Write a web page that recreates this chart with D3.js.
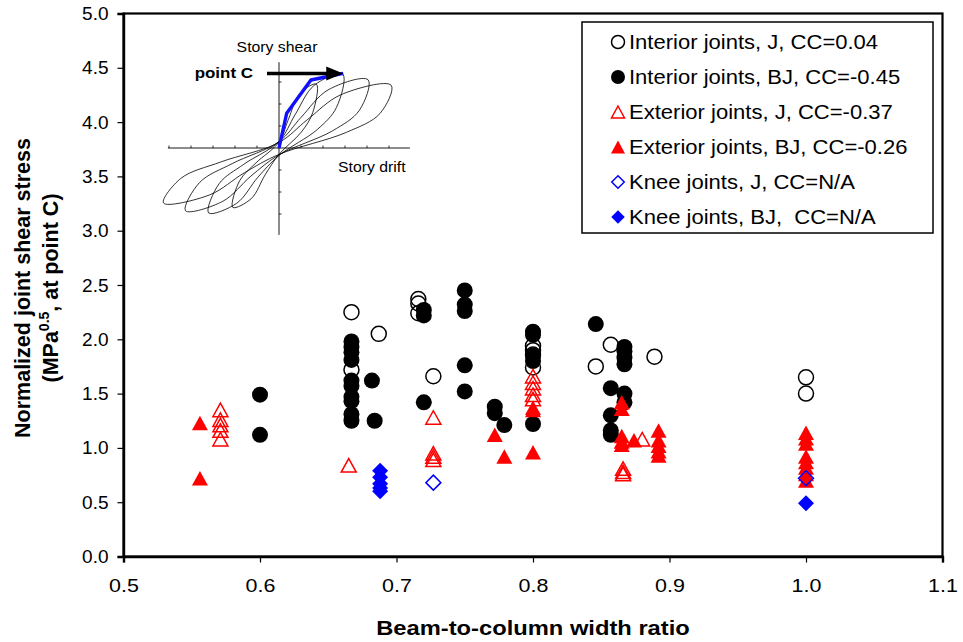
<!DOCTYPE html>
<html>
<head>
<meta charset="utf-8">
<script src="https://cdn.jsdelivr.net/npm/d3@7"></script>
<style>
  html, body { margin: 0; padding: 0; background: #fff; }
  svg { display: block; font-family: "Liberation Sans", Arial, sans-serif; }
</style>
</head>
<body>
<svg id="chart" width="963" height="642"></svg>
<script>
// ---- Joint shear data: beam-to-column width ratio (x) vs normalized joint shear stress (y) ----
const interiorJ_x = [0.667, 0.667, 0.687, 0.716, 0.716, 0.716, 0.727, 0.8, 0.8, 0.8, 0.8, 0.846, 0.857, 0.889, 1.0, 1.0];
const interiorJ_y = [2.25, 1.72, 2.05, 2.37, 2.33, 2.24, 1.66, 1.94, 1.90, 1.86, 1.74, 1.75, 1.95, 1.84, 1.65, 1.50];

const interiorBJ_x = [0.6, 0.6,
  0.667, 0.667, 0.667, 0.667, 0.667, 0.667, 0.667, 0.667, 0.667, 0.667,
  0.682, 0.684, 0.72, 0.72, 0.72,
  0.75, 0.75, 0.75, 0.75, 0.75,
  0.772, 0.772, 0.779,
  0.8, 0.8, 0.8, 0.8, 0.8,
  0.846,
  0.857, 0.857, 0.857, 0.857,
  0.867, 0.867, 0.867, 0.867, 0.867, 0.867];
const interiorBJ_y = [1.49, 1.12,
  1.98, 1.93, 1.88, 1.81, 1.62, 1.57, 1.47, 1.43, 1.31, 1.25,
  1.62, 1.25, 2.27, 2.22, 1.42,
  2.45, 2.32, 2.26, 1.76, 1.52,
  1.38, 1.32, 1.21,
  2.07, 2.04, 1.85, 1.80, 1.22,
  2.14,
  1.55, 1.30, 1.16, 1.12,
  1.93, 1.89, 1.83, 1.77, 1.50, 1.42];

const exteriorJ_x = [0.571, 0.571, 0.571, 0.571, 0.571, 0.665, 0.727, 0.727, 0.727, 0.727,
  0.8, 0.8, 0.8, 0.8, 0.8, 0.866, 0.866, 0.866, 0.880];
const exteriorJ_y = [1.35, 1.26, 1.21, 1.16, 1.08, 0.84, 1.28, 0.95, 0.92, 0.89,
  1.66, 1.60, 1.55, 1.49, 1.45, 0.81, 0.78, 0.76, 1.08];

const exteriorBJ_x = [0.556, 0.556, 0.772, 0.779, 0.8, 0.8, 0.8,
  0.865, 0.865, 0.865, 0.865, 0.865, 0.874,
  0.892, 0.892, 0.892, 0.892, 0.892,
  1.0, 1.0, 1.0, 1.0, 1.0, 1.0, 1.0, 1.0];
const exteriorBJ_y = [1.23, 0.72, 1.12, 0.92, 1.37, 1.35, 0.96,
  1.42, 1.36, 1.11, 1.06, 1.03, 1.07,
  1.16, 1.07, 1.02, 0.97, 0.93,
  1.14, 1.09, 1.04, 0.92, 0.87, 0.82, 0.76, 0.70];

const kneeJ_x = [0.727, 1.0];
const kneeJ_y = [0.68, 0.72];

const kneeBJ_x = [0.688, 0.688, 0.688, 0.688, 0.688, 1.0];
const kneeBJ_y = [0.79, 0.73, 0.67, 0.63, 0.60, 0.49];

const seriesNames = [
  "Interior joints, J, CC=0.04",
  "Interior joints, BJ, CC=-0.45",
  "Exterior joints, J, CC=-0.37",
  "Exterior joints, BJ, CC=-0.26",
  "Knee joints, J, CC=N/A",
  "Knee joints, BJ,  CC=N/A"
];

const xTicks = [0.5, 0.6, 0.7, 0.8, 0.9, 1.0, 1.1];
const yTicks = [0.0, 0.5, 1.0, 1.5, 2.0, 2.5, 3.0, 3.5, 4.0, 4.5, 5.0];

// ---- Inset: story shear vs story drift hysteresis (drift, shear) ----
const loop1 = [[-2.1,-2.7],[-1.79,-1.49],[-1.05,-0.68],[0,0.27],[0.43,1.31],[0.94,2.47],[1.7,2.9],[1.53,1.6],[1.02,0.73],[0,-0.29],[-0.63,-1.22],[-1.26,-2.3]];
const loop2 = [[-3.2,-2.95],[-2.72,-1.62],[-1.6,-0.74],[0,0.3],[0.73,1.51],[1.6,2.85],[2.9,3.35],[2.61,1.84],[1.74,0.84],[0,-0.34],[-0.96,-1.33],[-1.92,-2.51]];
const loop3 = [[-4.25,-2.85],[-3.61,-1.57],[-2.13,-0.71],[0,0.29],[1.01,1.4],[2.23,2.64],[4.05,3.1],[3.65,1.71],[2.43,0.78],[0,-0.31],[-1.28,-1.28],[-2.55,-2.42]];
const loop4 = [[-5.25,-2.5],[-4.46,-1.38],[-2.63,-0.63],[0,0.25],[1.28,1.28],[2.81,2.42],[5.1,2.85],[4.59,1.57],[3.06,0.71],[0,-0.29],[-1.58,-1.13],[-3.15,-2.13]];
const envelope = [[0,0],[0.35,1.58],[1.45,3.09],[2.17,3.24],[2.92,3.39]];
const insetTicksX = [-5, -4, -3, -2, -1, 1, 2, 3, 4, 5];
const insetTicksY = [-3, -2, -1, 1, 2, 3];

// ---- Layout ----
const svg = d3.select("#chart");
const FONT = "'Liberation Sans', Arial, sans-serif";
const STRETCH = 1.13;

const x = d3.scaleLinear().domain([0.5, 1.1]).range([123.5, 942.5]);
const y = d3.scaleLinear().domain([0, 5]).range([556.5, 13.5]);

// frame
svg.append("rect")
  .attr("x", x(0.5)).attr("y", y(5))
  .attr("width", x(1.1) - x(0.5)).attr("height", y(0) - y(5))
  .attr("fill", "none").attr("stroke", "#000").attr("stroke-width", 2.2);

// axes
const yAxis = svg.append("g")
  .attr("transform", `translate(${x(0.5)},0)`)
  .call(d3.axisLeft(y).tickValues(yTicks).tickFormat(d3.format(".1f")).tickSize(6).tickPadding(9));
yAxis.select(".domain").attr("stroke-width", 2.4);
yAxis.selectAll(".tick line").attr("stroke-width", 1.2);
yAxis.selectAll(".tick text").attr("font-size", 19).attr("font-family", FONT).attr("fill", "#000");

const xAxis = svg.append("g")
  .attr("transform", `translate(0,${y(0)})`)
  .call(d3.axisBottom(x).tickValues(xTicks).tickFormat(d3.format(".1f")).tickSize(6).tickPadding(16));
xAxis.select(".domain").attr("stroke-width", 2.4);
xAxis.selectAll(".tick line").attr("stroke-width", 1.2);
xAxis.selectAll(".tick text").attr("font-size", 19).attr("font-family", FONT).attr("fill", "#000")
  .attr("transform", `scale(${STRETCH},1)`);

// axis titles
svg.append("text")
  .attr("transform", `translate(${(x(0.5) + x(1.1)) / 2},635) scale(${STRETCH},1)`)
  .attr("text-anchor", "middle").attr("font-size", 21).attr("font-weight", "bold")
  .text("Beam-to-column width ratio");

const yTitle = svg.append("text")
  .attr("transform", "translate(0,288) rotate(-90)")
  .attr("text-anchor", "middle").attr("font-size", 21.5).attr("font-weight", "bold");
yTitle.append("tspan").attr("x", 0).attr("y", 30).text("Normalized joint shear stress");
const l2 = yTitle.append("tspan").attr("x", 0).attr("y", 58);
l2.append("tspan").text("(MPa");
l2.append("tspan").attr("dy", -9).attr("font-size", 14).text("0.5");
l2.append("tspan").attr("dy", 9).text(", at point C)");

// ---- markers ----
const symCircle = r => `M${-r},0A${r},${r} 0 1,0 ${r},0A${r},${r} 0 1,0 ${-r},0Z`;
const symTri = (w, h) => `M0,${-h/2}L${w/2},${h/2}L${-w/2},${h/2}Z`;
const symDiamond = (w, h) => `M0,${-h/2}L${w/2},0L0,${h/2}L${-w/2},0Z`;

const series = [
  { xs: interiorJ_x, ys: interiorJ_y, path: symCircle(7.5), fill: "none", stroke: "#000", sw: 1.5, leg: symCircle(6.5) },
  { xs: interiorBJ_x, ys: interiorBJ_y, path: symCircle(8), fill: "#000", stroke: "#000", sw: 0, leg: symCircle(7) },
  { xs: exteriorJ_x, ys: exteriorJ_y, path: symTri(15, 13.5), fill: "none", stroke: "#ff0000", sw: 1.5, leg: symTri(13, 12) },
  { xs: exteriorBJ_x, ys: exteriorBJ_y, path: symTri(16, 14.5), fill: "#ff0000", stroke: "#ff0000", sw: 0, leg: symTri(14, 13) },
  { xs: kneeJ_x, ys: kneeJ_y, path: symDiamond(15, 15), fill: "none", stroke: "#0000ff", sw: 1.5, leg: symDiamond(12.5, 12.5) },
  { xs: kneeBJ_x, ys: kneeBJ_y, path: symDiamond(16, 16), fill: "#0000ff", stroke: "#0000ff", sw: 0, leg: symDiamond(13.5, 13.5) }
];

const marks = svg.append("g");
series.forEach(s => {
  marks.append("g").selectAll("path")
    .data(s.xs.map((v, i) => [v, s.ys[i]]))
    .join("path")
    .attr("transform", d => `translate(${x(d[0])},${y(d[1])})`)
    .attr("d", s.path)
    .attr("fill", s.fill)
    .attr("stroke", s.sw ? s.stroke : "none")
    .attr("stroke-width", s.sw);
});

// ---- legend ----
const legend = svg.append("g");
legend.append("rect")
  .attr("x", 582).attr("y", 22).attr("width", 351).attr("height", 211)
  .attr("fill", "#fff").attr("stroke", "#000").attr("stroke-width", 1.5);
series.forEach((s, i) => {
  const cy = 42 + i * 35;
  legend.append("path")
    .attr("transform", `translate(618,${cy})`)
    .attr("d", s.leg)
    .attr("fill", s.fill)
    .attr("stroke", s.sw ? s.stroke : "none")
    .attr("stroke-width", s.sw);
  legend.append("text")
    .attr("transform", `translate(629,${cy + 7}) scale(${STRETCH},1)`)
    .attr("font-size", 19.5).attr("fill", "#000")
    .style("white-space", "pre")
    .text(seriesNames[i]);
});

// ---- inset sketch ----
const ix = d3.scaleLinear().domain([0, 1]).range([279, 301]);
const iy = d3.scaleLinear().domain([0, 1]).range([148, 126]);
const inset = svg.append("g");

inset.append("line").attr("x1", ix(-5.05)).attr("x2", ix(5.95)).attr("y1", iy(0)).attr("y2", iy(0))
  .attr("stroke", "#000").attr("stroke-width", 0.9);
inset.append("line").attr("x1", ix(0)).attr("x2", ix(0)).attr("y1", iy(3.9)).attr("y2", iy(-3.95))
  .attr("stroke", "#000").attr("stroke-width", 0.9);
inset.selectAll(".tx").data(insetTicksX).join("line")
  .attr("x1", d => ix(d)).attr("x2", d => ix(d)).attr("y1", iy(0)).attr("y2", iy(0) - 2.5)
  .attr("stroke", "#000").attr("stroke-width", 0.8);
inset.selectAll(".ty").data(insetTicksY).join("line")
  .attr("x1", ix(0)).attr("x2", ix(0) + 2.5).attr("y1", d => iy(d)).attr("y2", d => iy(d))
  .attr("stroke", "#000").attr("stroke-width", 0.8);

const loopLine = d3.line().x(d => ix(d[0])).y(d => iy(d[1])).curve(d3.curveCatmullRomClosed.alpha(0.5));
[loop1, loop2, loop3, loop4].forEach(lp => {
  inset.append("path").attr("d", loopLine(lp))
    .attr("fill", "none").attr("stroke", "#000").attr("stroke-width", 0.8);
});

inset.append("path")
  .attr("d", d3.line().x(d => ix(d[0])).y(d => iy(d[1]))(envelope))
  .attr("fill", "none").attr("stroke", "#1010ff").attr("stroke-width", 3.4)
  .attr("stroke-linejoin", "round");

// arrow pointing at point C
const tipX = ix(envelope[envelope.length - 1][0]);
const tipY = iy(envelope[envelope.length - 1][1]);
inset.append("line").attr("x1", 267).attr("x2", tipX - 14).attr("y1", tipY).attr("y2", tipY)
  .attr("stroke", "#000").attr("stroke-width", 3.5);
inset.append("path")
  .attr("d", `M${tipX},${tipY}L${tipX - 17},${tipY - 7}L${tipX - 17},${tipY + 7}Z`)
  .attr("fill", "#000");

inset.append("text").attr("transform", `translate(277,52) scale(${STRETCH},1)`)
  .attr("text-anchor", "middle").attr("font-size", 14).text("Story shear");
inset.append("text").attr("transform", `translate(338,172) scale(${STRETCH},1)`)
  .attr("font-size", 14).text("Story drift");
inset.append("text").attr("transform", `translate(253,78) scale(${STRETCH},1)`)
  .attr("text-anchor", "end").attr("font-size", 15).attr("font-weight", "bold").text("point C");
</script>
</body>
</html>
